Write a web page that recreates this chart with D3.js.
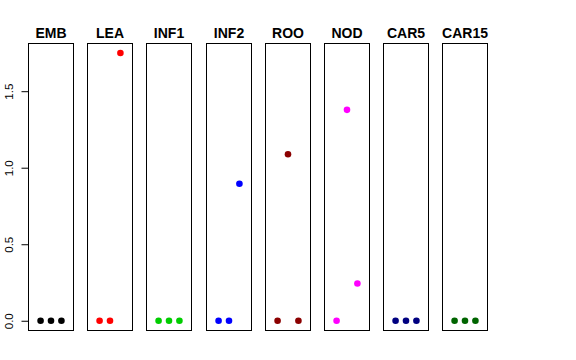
<!DOCTYPE html>
<html>
<head>
<meta charset="utf-8">
<script src="https://cdn.jsdelivr.net/npm/d3@7"></script>
<style>
  body { margin: 0; background: #fff; }
  svg { display: block; font-family: "Liberation Sans", Arial, sans-serif; }
</style>
</head>
<body>
<svg id="chart" width="576" height="360"></svg>
<script>
// tissues, one panel each
var tissues = ["EMB", "LEA", "INF1", "INF2", "ROO", "NOD", "CAR5", "CAR15"];
var colors = ["#000000", "#ff0000", "#00cd00", "#0000ff", "#8b0000", "#ff00ff", "#000080", "#006400"];
// three replicates per tissue
var values = [
  [0, 0, 0],
  [0, 0, 1.75],
  [0, 0, 0],
  [0, 0, 0.895],
  [0, 1.088, 0],
  [0, 1.378, 0.243],
  [0, 0, 0],
  [0, 0, 0]
];
var yTicks = [0, 0.5, 1.0, 1.5];

var svg = d3.select("#chart");

var boxTop = 43.5, boxBottom = 330.5, boxW = 45;

var y = d3.scaleLinear().domain([-0.065, 1.813]).range([330.7, 43.3]);

tissues.forEach(function (name, i) {
  var left = Math.round(28 + i * 59.2) + 0.5;
  var x = d3.scaleLinear().domain([-0.16, 4.16]).range([left, left + boxW]);
  var g = svg.append("g");

  g.append("rect")
    .attr("x", left).attr("y", boxTop)
    .attr("width", boxW).attr("height", boxBottom - boxTop)
    .attr("fill", "none").attr("stroke", "#000").attr("stroke-width", 1);

  g.append("text")
    .attr("x", left + boxW / 2).attr("y", 37.5)
    .attr("text-anchor", "middle")
    .attr("font-weight", "bold").attr("font-size", 14)
    .text(name);

  g.selectAll("circle")
    .data(values[i])
    .enter()
    .append("circle")
    .attr("cx", function (d, j) { return x(j + 1); })
    .attr("cy", function (d) { return y(d); })
    .attr("r", 3.3)
    .attr("fill", colors[i]);

  if (i === 0) {
    var axis = d3.axisLeft(y).tickValues(yTicks).tickSize(7).tickPadding(0)
      .tickFormat(d3.format(".1f"));
    var ag = svg.append("g").attr("transform", "translate(" + left + ",0)").call(axis);
    ag.select(".domain").attr("d", "M0," + y(0) + "V" + y(1.5));
    ag.selectAll(".tick line").attr("stroke", "#000");
    ag.selectAll(".tick text")
      .attr("font-size", 11.5).attr("font-family", "Liberation Sans, Arial, sans-serif")
      .attr("fill", "#000")
      .attr("text-anchor", "middle")
      .attr("x", null).attr("dy", null)
      .attr("transform", "translate(-16,0) rotate(-90)");
  }
});
</script>
</body>
</html>
